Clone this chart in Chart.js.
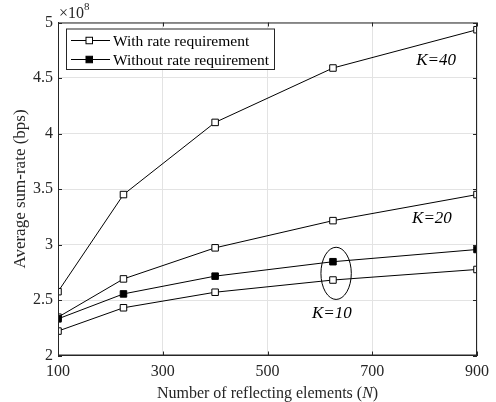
<!DOCTYPE html>
<html>
<head>
<meta charset="utf-8">
<script src="https://cdn.jsdelivr.net/npm/chart.js@4/dist/chart.umd.min.js"></script>
<style>
    html, body { margin: 0; padding: 0; background: #fff; }
    #wrap { width: 496px; height: 402px; position: relative; }
</style>
</head>
<body>
<div id="wrap"><canvas id="rateChart"></canvas></div>
<script>
'use strict';

// Number of reflecting elements N (10^2 ... 30^2)
const elements = [100, 225, 400, 625, 900];

// Average sum-rate, in units of 1e8 bps
const k40With = [2.575, 3.45, 4.10, 4.59, 4.935];
const k20With = [2.345, 2.69, 2.97, 3.215, 3.45];
const k10Without = [2.33, 2.555, 2.715, 2.845, 2.955];
const k10With = [2.22, 2.43, 2.57, 2.68, 2.775];

// Axis ticks
const xTicks = [100, 300, 500, 700, 900];
const yTicks = [2, 2.5, 3, 3.5, 4, 4.5, 5];

const legendLabels = ['With rate requirement', 'Without rate requirement'];
const curveLabels = ['K=40', 'K=20', 'K=10'];

const SERIF = '"Liberation Serif", "Times New Roman", serif';
const AXIS_COLOR = '#262626';

function series(ys, filled) {
    return {
        data: elements.map((x, i) => ({ x: x, y: ys[i] })),
        showLine: true,
        borderColor: '#000',
        borderWidth: 1,
        pointStyle: 'rect',
        pointRadius: 4.6,
        pointBorderWidth: 1,
        pointBorderColor: '#000',
        pointBackgroundColor: filled ? '#000' : '#fff',
        order: filled ? 0 : 1
    };
}

// Box, inward ticks, legend, curve labels and the K=10 ellipse
const decorations = {
    id: 'decorations',
    afterDatasetsDraw(chart) {
        const { ctx, chartArea: a, scales: { x, y } } = chart;
        ctx.save();

        // axes box with inward ticks
        ctx.strokeStyle = AXIS_COLOR;
        ctx.lineWidth = 1;
        ctx.strokeRect(a.left + 0.5, a.top + 0.5, a.right - a.left - 1, a.bottom - a.top - 1);
        ctx.beginPath();
        xTicks.forEach(v => {
            const px = Math.round(x.getPixelForValue(v)) + 0.5;
            ctx.moveTo(px, a.bottom); ctx.lineTo(px, a.bottom - 4);
            ctx.moveTo(px, a.top); ctx.lineTo(px, a.top + 4);
        });
        yTicks.forEach(v => {
            const py = Math.round(y.getPixelForValue(v)) + 0.5;
            ctx.moveTo(a.left, py); ctx.lineTo(a.left + 4, py);
            ctx.moveTo(a.right, py); ctx.lineTo(a.right - 4, py);
        });
        ctx.stroke();

        // exponent marker
        ctx.fillStyle = AXIS_COLOR;
        ctx.textBaseline = 'alphabetic';
        ctx.textAlign = 'left';
        ctx.font = '16px ' + SERIF;
        ctx.fillText('\u00d710', a.left + 1, 18);
        const w = ctx.measureText('\u00d710').width;
        ctx.font = '11px ' + SERIF;
        ctx.fillText('8', a.left + 1 + w, 10);

        // ellipse grouping the K=10 pair
        const cx = x.getPixelForValue(631);
        const cy = y.getPixelForValue(2.74);
        const rx = x.getPixelForValue(660) - cx;
        const ry = cy - y.getPixelForValue(2.975);
        ctx.beginPath();
        ctx.ellipse(cx, cy, rx, ry, 0, 0, Math.PI * 2);
        ctx.strokeStyle = '#000';
        ctx.stroke();

        // curve labels
        const labelPos = [[822, 4.655], [814, 3.23], [623, 2.374]];
        ctx.font = 'italic 17px ' + SERIF;
        ctx.fillStyle = '#000';
        ctx.textAlign = 'center';
        ctx.textBaseline = 'middle';
        curveLabels.forEach((t, i) => {
            ctx.fillText(t, x.getPixelForValue(labelPos[i][0]), y.getPixelForValue(labelPos[i][1]));
        });

        // legend box
        const lx = 66, ly = 28.5, lw = 208, lh = 40.5;
        ctx.fillStyle = '#fff';
        ctx.fillRect(lx, ly, lw, lh);
        ctx.strokeStyle = AXIS_COLOR;
        ctx.strokeRect(lx + 0.5, ly + 0.5, lw, lh);
        ctx.font = '15.5px ' + SERIF;
        ctx.textAlign = 'left';
        ctx.textBaseline = 'alphabetic';
        legendLabels.forEach((t, i) => {
            const rowY = 40.5 + i * 19;
            ctx.strokeStyle = '#000';
            ctx.beginPath();
            ctx.moveTo(71, rowY); ctx.lineTo(110, rowY);
            ctx.stroke();
            ctx.fillStyle = i === 0 ? '#fff' : '#000';
            ctx.fillRect(86, rowY - 3.25, 6.5, 6.5);
            ctx.strokeRect(86, rowY - 3.25, 6.5, 6.5);
            ctx.fillStyle = '#000';
            ctx.fillText(t, 113, rowY + 5);
        });

        // x-axis title with italic N
        const parts = [['Number of reflecting elements (', ''], ['N', 'italic '], [')', '']];
        let total = 0;
        parts.forEach(p => { ctx.font = p[1] + '16px ' + SERIF; total += ctx.measureText(p[0]).width; });
        let tx = (a.left + a.right) / 2 - total / 2;
        ctx.fillStyle = AXIS_COLOR;
        parts.forEach(p => {
            ctx.font = p[1] + '16px ' + SERIF;
            ctx.fillText(p[0], tx, 397.5);
            tx += ctx.measureText(p[0]).width;
        });

        ctx.restore();
    }
};

new Chart(document.getElementById('rateChart'), {
    type: 'scatter',
    data: {
        datasets: [
            series(k40With, false),
            series(k20With, false),
            series(k10Without, true),
            series(k10With, false)
        ]
    },
    options: {
        responsive: true,
        maintainAspectRatio: false,
        animation: false,
        layout: { padding: { top: 22.5, right: 14, left: 0, bottom: 0 } },
        plugins: {
            legend: { display: false },
            tooltip: { enabled: false }
        },
        scales: {
            x: {
                type: 'linear',
                min: 100,
                max: 900,
                afterBuildTicks: scale => { scale.ticks = xTicks.map(v => ({ value: v })); },
                afterFit: scale => { scale.height = 46.5; },
                grid: { color: '#e3e3e3', drawTicks: false },
                border: { color: AXIS_COLOR },
                ticks: {
                    padding: 7,
                    color: AXIS_COLOR,
                    font: { family: SERIF, size: 16 },
                    callback: v => String(v)
                }
            },
            y: {
                type: 'linear',
                min: 2,
                max: 5,
                afterBuildTicks: scale => { scale.ticks = yTicks.map(v => ({ value: v })); },
                afterFit: scale => { scale.width = 58; },
                grid: { color: '#e3e3e3', drawTicks: false },
                border: { color: AXIS_COLOR },
                title: {
                    display: true,
                    text: 'Average sum-rate (bps)',
                    color: AXIS_COLOR,
                    font: { family: SERIF, size: 17 },
                    padding: { top: 10, bottom: 0 }
                },
                ticks: {
                    padding: 5,
                    color: AXIS_COLOR,
                    font: { family: SERIF, size: 16 },
                    callback: v => String(v)
                }
            }
        }
    },
    plugins: [decorations]
});
</script>
</body>
</html>
